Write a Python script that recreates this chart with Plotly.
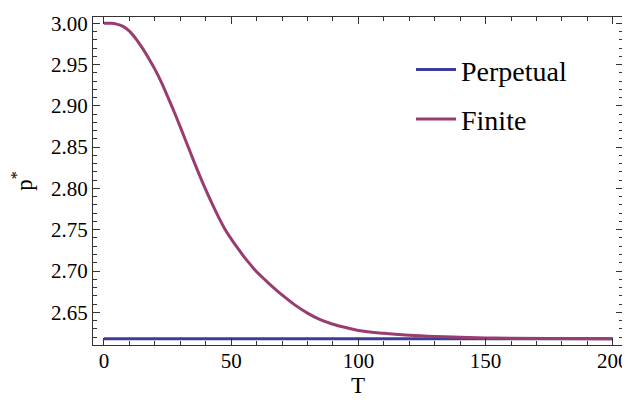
import plotly.graph_objects as go

# Data
T_finite = [0, 2.5, 5, 7.5, 10, 12.5, 15, 17.5, 20, 22.5, 25, 27.5, 30, 32.5, 35, 37.5, 40,
            42.5, 45, 47.5, 50, 52.5, 55, 57.5, 60, 65, 70, 75, 80, 85, 90, 95, 100,
            110, 120, 130, 140, 150, 160, 175, 200]
p_finite = [3.000, 3.000, 2.9990, 2.9962, 2.9905, 2.9815, 2.9705, 2.958, 2.9445, 2.929,
            2.9115, 2.8935, 2.8745, 2.855, 2.8355, 2.8165, 2.7985, 2.7815, 2.7655, 2.751,
            2.739, 2.728, 2.7175, 2.708, 2.699, 2.6845, 2.671, 2.659, 2.649, 2.641,
            2.6355, 2.6315, 2.628, 2.6245, 2.6222, 2.6207, 2.6197, 2.619, 2.6186,
            2.6183, 2.6181]
T_perp = [0, 200]
p_perp = [2.618, 2.618]

x_ticks = [0, 50, 100, 150, 200]
y_ticks = [2.65, 2.70, 2.75, 2.80, 2.85, 2.90, 2.95, 3.00]

BLUE = "rgb(61,61,153)"
MAGENTA = "rgb(153,61,113)"
FONT = "Liberation Serif"

fig = go.Figure()
fig.add_trace(go.Scatter(x=T_perp, y=p_perp, mode="lines", name="Perpetual",
                         legendgroup="a", line=dict(color=BLUE, width=3)))
fig.add_trace(go.Scatter(x=T_finite, y=p_finite, mode="lines", name="Finite",
                         legendgroup="b", line=dict(color=MAGENTA, width=3,
                                                    shape="spline", smoothing=1)))

axis_common = dict(showline=True, linecolor="#333", linewidth=1, mirror="ticks",
                   ticks="inside", ticklen=7, tickcolor="#333", tickwidth=1,
                   showgrid=False, zeroline=False, automargin=False,
                   tickfont=dict(family=FONT, size=21, color="black"))

fig.update_xaxes(range=[-4.3, 204], tickvals=x_ticks, ticklabelstandoff=-3,
                 minor=dict(dtick=10, ticklen=4, ticks="inside", tickcolor="#333"),
                 title=dict(text="T", font=dict(family=FONT, size=23, color="black"),
                            standoff=0),
                 **axis_common)
fig.update_yaxes(range=[2.6104, 3.0076], tickvals=y_ticks, tickformat=".2f",
                 minor=dict(dtick=0.01, ticklen=4, ticks="inside", tickcolor="#333"),
                 title=dict(text="p<sup>*</sup>", font=dict(family=FONT, size=23, color="black"),
                            standoff=16),
                 **axis_common)

fig.update_layout(
    width=630, height=408,
    margin=dict(l=85, r=15, t=9, b=71),
    plot_bgcolor="white", paper_bgcolor="white",
    legend=dict(x=0.6, y=0.915, xanchor="left", yanchor="top", itemwidth=40,
                font=dict(family=FONT, size=28, color="black"),
                bgcolor="rgba(0,0,0,0)", tracegroupgap=10),
)

fig.write_html("out.html")
